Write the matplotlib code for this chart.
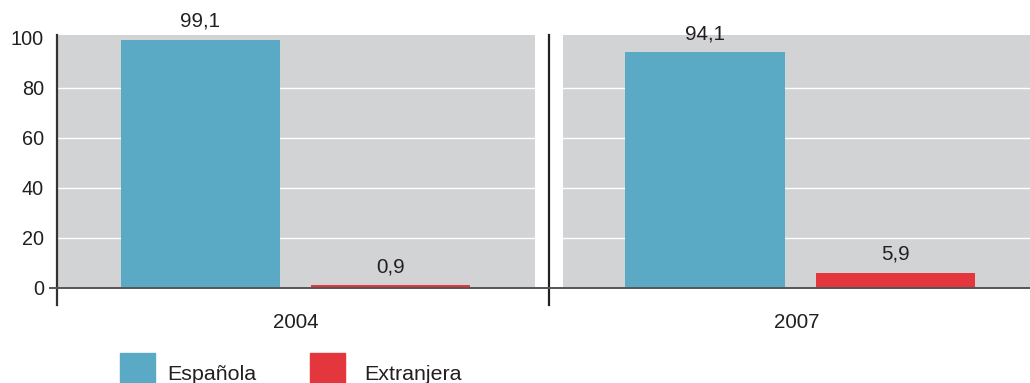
import matplotlib
matplotlib.use("Agg")
import matplotlib.pyplot as plt
from matplotlib.lines import Line2D
from matplotlib.patches import Rectangle

plt.rcParams['font.family'] = ['Liberation Sans', 'DejaVu Sans']

# Data
years = ["2004", "2007"]
series = ["Española", "Extranjera"]
espanola = [99.1, 94.1]
extranjera = [0.9, 5.9]
value_labels_esp = ["99,1", "94,1"]
value_labels_ext = ["0,9", "5,9"]
yticks = [0, 20, 40, 60, 80, 100]

colors = ["#5aaac6", "#e3363d"]
panel_bg = "#d2d3d5"
text_color = "#231f20"

W, H = 1030, 383
fig = plt.figure(figsize=(W / 100, H / 100), dpi=100)


def fx(px):
    return px / W


def fy(py):
    return 1 - py / H


top_px, base_px = 35, 287.5
ymax = (base_px - top_px) / 2.5
panels = [(57, 535, (-0.755, 1.76)), (563, 1030, (-0.747, 1.71))]
bar_w = 0.837

for i, (x0, x1, xl) in enumerate(panels):
    ax = fig.add_axes([fx(x0), fy(base_px), fx(x1) - fx(x0), fy(top_px) - fy(base_px)])
    ax.set_facecolor(panel_bg)
    ax.set_xlim(*xl)
    ax.set_ylim(0, ymax)
    for s in ax.spines.values():
        s.set_visible(False)
    for g in yticks[1:-1]:
        ax.axhline(g, color="white", lw=1.0, zorder=1)
    vals = [espanola[i], extranjera[i]]
    labs = [value_labels_esp[i], value_labels_ext[i]]
    for k, (v, lab) in enumerate(zip(vals, labs)):
        ax.bar(k, v, width=bar_w, color=colors[k], zorder=2)
        ax.annotate(lab, (k, v), xytext=(0, 6.5), textcoords="offset points",
                    ha="center", va="bottom", fontsize=14.8, color=text_color)
    ax.set_xticks([])
    if i == 0:
        ax.set_yticks(yticks)
        ax.set_yticklabels([str(t) for t in yticks], fontsize=14.3, color=text_color)
        ax.tick_params(axis="y", length=0, pad=9.4)
    else:
        ax.set_yticks([])
    # year label
    fig.text(fx((x0 + x1) / 2), fy(323), years[i], ha="center", va="center",
             fontsize=14.9, color=text_color)

# axis frame lines
fig.add_artist(Line2D([fx(57), fx(57)], [fy(35), fy(305)], color="#333333", lw=1.6))
fig.add_artist(Line2D([fx(549), fx(549)], [fy(35), fy(305)], color="#222222", lw=1.6))
fig.add_artist(Line2D([fx(50), fx(1030)], [fy(287.5), fy(287.5)], color="#555555", lw=1.4))

# legend
leg_x = [120, 310]
leg_text_x = [167.5, 364]
for k, name in enumerate(series):
    fig.add_artist(Rectangle((fx(leg_x[k]), fy(390)), fx(35), fy(353) - fy(390),
                             color=colors[k], transform=fig.transFigure))
    fig.text(fx(leg_text_x[k]), fy(379.5), name, ha="left", va="baseline",
             fontsize=15.4, color=text_color)

fig.savefig("out.png", dpi=100)
